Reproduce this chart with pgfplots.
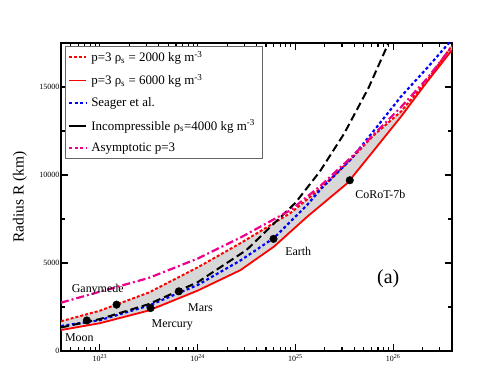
\documentclass[border=0pt]{standalone}
\usepackage{fontspec}
\setmainfont{Liberation Serif}
\usepackage{pgfplots}
\pgfplotsset{compat=1.18}
\usepgfplotslibrary{fillbetween}
\definecolor{fillgray}{RGB}{215,215,215}
\begin{document}
\begin{tikzpicture}
\path (-61bp,-20bp) rectangle (419bp,351bp);
\begin{axis}[
  set layers,
  at={(0,0)}, anchor=south west,
  scale only axis, width=391bp, height=308bp,
  xmode=log, xmin=4e22, xmax=4e26, ymin=0, ymax=17500,
  xtick={1e23,1e24,1e25,1e26},
  xticklabels={10\textsuperscript{23},10\textsuperscript{24},10\textsuperscript{25},10\textsuperscript{26}},
  minor xtick={5e22,6e22,7e22,8e22,9e22,2e23,3e23,4e23,5e23,6e23,7e23,8e23,9e23,2e24,3e24,4e24,5e24,6e24,7e24,8e24,9e24,2e25,3e25,4e25,5e25,6e25,7e25,8e25,9e25,2e26,3e26},
  ytick={0,5000,10000,15000},
  yticklabels={0,5000,10000,15000},
  scaled y ticks=false,
  minor ytick={2500,7500,12500},
  tick align=inside,
  major tick length=7bp, minor tick length=4bp,
  every tick/.append style={black, line width=1.1pt},
  axis line style={line width=1.6pt},
  tick label style={font=\fontsize{8}{9}\selectfont},
  yticklabel style={inner sep=1.5bp},
  ylabel={Radius R (km)},
  ylabel style={font=\fontsize{15.5}{17}\selectfont, at={(axis description cs:-0.105,0.5)}, anchor=center},
  legend style={at={(0.01,0.99)}, anchor=north west, draw=black!60,
     font=\fontsize{13}{15}\selectfont, row sep=7.5pt, inner sep=3pt, fill=white,
     nodes={inner xsep=4pt}},
  legend cell align=left,
]
\addplot[name path=rd, red, line width=2pt, dash pattern=on 3pt off 2pt] coordinates {
(4e22,1690) (1e23,2290) (3.16e23,3320) (1e24,4750) (2.75e24,6130) (8.91e24,7840)
(1.82e25,9250) (3.63e25,10850) (6.31e25,12250) (1.2e26,13600) (2.24e26,15400) (4e26,17350)};
\addlegendentry{p=3 ρ\textsubscript{s} = 2000 kg m\textsuperscript{-3}}
\addplot[name path=rs, red, line width=1.8pt, solid] coordinates {
(4e22,1190) (1e23,1580) (3.16e23,2300) (1e24,3430) (2.75e24,4600) (6.03e24,5930)
(1.32e25,7630) (3.39e25,9530) (6.31e25,11380) (1.2e26,13310) (2.24e26,15320) (4e26,17100)};
\addlegendentry{p=3 ρ\textsubscript{s} = 6000 kg m\textsuperscript{-3}}
\addplot[fillgray, forget plot, on layer=axis background] fill between[of=rd and rs];
% Seager et al.
\addplot[blue, line width=2.2pt, dash pattern=on 3pt off 2.5pt] coordinates {
(4e22,1420) (1e23,1750) (3.16e23,2580) (1e24,3750) (2.75e24,5150) (6.03e24,6420)
(1.32e25,8300) (1.82e25,9200) (3.63e25,10850) (6.31e25,12500) (1.2e26,14450) (2.24e26,16100) (4e26,17700)};
\addlegendentry{Seager et al.}
% incompressible 4000
\addplot[black, line width=2pt, dash pattern=on 8pt off 4pt, legend image post style={solid}] coordinates {
(4e22,1336) (1e23,1814) (3.16e23,2663) (1e24,3908) (3.16e24,5737) (1e25,8420)
(1.78e25,10200) (3.16e25,12360) (5.62e25,14970) (9.12e25,17590)};
\addlegendentry{Incompressible ρ\textsubscript{s}=4000 kg m\textsuperscript{-3}}
% asymptotic p=3
\addplot[magenta, line width=2.2pt, dash pattern=on 8pt off 3pt on 2pt off 3pt, legend image post style={dash pattern=on 3pt off 2.5pt}] coordinates {
(4e22,2745) (1e23,3370) (3.16e23,4150) (1e24,5250) (2.75e24,6450) (8.91e24,8000)
(1.82e25,9400) (3.63e25,10950) (6.31e25,12300) (1.2e26,13850) (2.24e26,15500) (4e26,17300)};
\addlegendentry{Asymptotic p=3}
% planets
\addplot[only marks, mark=*, mark size=3.8bp, black, forget plot] coordinates {
(7.35e22,1737) (1.48e23,2634) (3.30e23,2440) (6.42e23,3390) (5.97e24,6371) (3.6e25,9700)};
% labels
\node[font=\fontsize{12}{14}\selectfont] at (axis cs:6.17e22,740) {Moon};
\node[font=\fontsize{12}{14}\selectfont] at (axis cs:9.5e22,3470) {Ganymede};
\node[font=\fontsize{12}{14}\selectfont] at (axis cs:5.5e23,1480) {Mercury};
\node[font=\fontsize{12}{14}\selectfont] at (axis cs:1.07e24,2460) {Mars};
\node[font=\fontsize{12}{14}\selectfont] at (axis cs:1.07e25,5640) {Earth};
\node[font=\fontsize{12}{14}\selectfont] at (axis cs:7.4e25,8920) {CoRoT-7b};
\node[font=\fontsize{20}{22}\selectfont] at (axis cs:8.9e25,4090) {(a)};
\end{axis}
\end{tikzpicture}
\end{document}
